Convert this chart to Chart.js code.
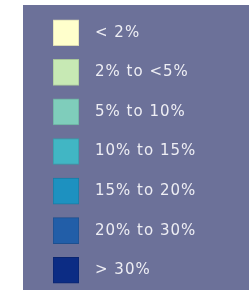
<!DOCTYPE html>
<html>
<head>
<meta charset="utf-8">
<script src="https://cdn.jsdelivr.net/npm/chart.js@4/dist/chart.umd.min.js"></script>
<style>
  html, body { margin: 0; padding: 0; background: #ffffff; }
  #panel { position: absolute; left: 23px; top: 5px; width: 226px; height: 285px; background: #6c7199; }
  #legend { position: absolute; left: 0; top: 0; }
</style>
</head>
<body>
<div id="panel"></div>
<canvas id="legend" width="249" height="290"></canvas>
<script>
// Legend classes and their swatch colours
const categories = ['< 2%', '2% to <5%', '5% to 10%', '10% to 15%', '15% to 20%', '20% to 30%', '> 30%'];
const swatchColors = ['#ffffcc', '#c7e9b4', '#7fcdbb', '#41b6c4', '#1d91c0', '#225ea8', '#0c2c84'];
const swatchBorders = ['#d9d9b3', '#a9c79a', '#6cae9f', '#389aa7', '#1a7ba3', '#1d4f8f', '#0a2570'];
const swatchValues = [1, 1, 1, 1, 1, 1, 1];

// canvas letter spacing to mimic the old bitmap font
const spacingPlugin = {
  id: 'spacing',
  beforeInit(chart) { chart.ctx.letterSpacing = '1px'; },
  beforeDraw(chart) { chart.ctx.letterSpacing = '1px'; }
};

new Chart(document.getElementById('legend').getContext('2d'), {
  type: 'bar',
  data: {
    labels: categories,
    datasets: [{
      data: swatchValues,
      backgroundColor: swatchColors,
      borderColor: swatchBorders,
      borderWidth: 1,
      borderSkipped: false,
      barThickness: 26
    }]
  },
  options: {
    indexAxis: 'y',
    responsive: false,
    animation: false,
    layout: { padding: { left: 53, top: 13, bottom: 0, right: 0 } },
    plugins: { legend: { display: false }, tooltip: { enabled: false } },
    scales: {
      x: { display: false, min: 0, max: 1 },
      y: {
        position: 'right',
        grid: { display: false, drawTicks: false },
        border: { display: false },
        afterFit(scale) {
          scale.width = 170;
          // tick padding is horizontal only here
          scale.paddingTop = 0;
          scale.paddingBottom = 0;
        },
        ticks: {
          color: '#eeeef4',
          padding: 16,
          font: { family: 'DejaVu Sans', size: 15 }
        }
      }
    }
  },
  plugins: [spacingPlugin]
});
</script>
</body>
</html>
